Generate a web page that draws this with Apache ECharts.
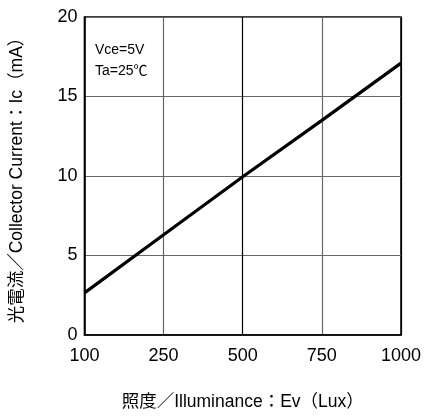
<!DOCTYPE html>
<html><head><meta charset="utf-8">
<script src="https://cdn.jsdelivr.net/npm/echarts@6/dist/echarts.min.js"></script>
<style>html,body{margin:0;padding:0;background:#fff}#c{width:424px;height:416px}</style>
</head><body><div id="c"></div>
<script>
const categories = ['100','250','500','750','1000'];
const currentValues = [2.65, 6.3, 9.95, 13.5, 17.1];
const yTicks = [0, 5, 10, 15, 20];
const xAxisName = '照度／Illuminance：Ev（Lux）';
const yAxisName = '光電流／Collector Current：Ic（mA）';
const noteLines = ['Vce=5V', 'Ta=25℃'];

const FONT = '"Liberation Sans", "Noto Sans CJK JP", sans-serif';
const chart = echarts.init(document.getElementById('c'), null, {renderer: 'canvas'});
chart.setOption({
  animation: false,
  backgroundColor: '#fff',
  grid: {left: 83, right: 23, top: 17, bottom: 81, show: true, borderColor: '#000', borderWidth: 1.5, containLabel: false},
  xAxis: {
    type: 'category', data: categories, boundaryGap: false,
    name: xAxisName, nameLocation: 'middle', nameGap: 58,
    nameTextStyle: {fontSize: 17.5, color: '#000', fontFamily: FONT},
    axisLine: {show: true, lineStyle: {color: '#000', width: 1.5}},
    axisTick: {show: false},
    axisLabel: {fontSize: 18, color: '#000', margin: 12, fontFamily: FONT},
    splitLine: {show: true, lineStyle: {color: ['#000', '#666', '#000', '#666', '#000'], width: 1.2}}
  },
  yAxis: {
    type: 'value', min: yTicks[0], max: yTicks[yTicks.length - 1], interval: 5,
    name: yAxisName, nameLocation: 'middle', nameGap: 59, nameRotate: 90,
    nameTextStyle: {fontSize: 17.5, color: '#000', fontFamily: FONT},
    axisLine: {show: true, lineStyle: {color: '#000', width: 1.5}},
    axisTick: {show: false},
    axisLabel: {fontSize: 18, color: '#000', margin: 7, fontFamily: FONT},
    splitLine: {show: true, lineStyle: {color: '#666', width: 1.2}}
  },
  graphic: [{
    type: 'text', left: 95, top: 40,
    style: {text: noteLines.join('\n'), fontSize: 14, lineHeight: 21, fill: '#000', fontFamily: FONT}
  }],
  series: [{
    type: 'line', data: currentValues, symbol: 'none',
    lineStyle: {color: '#000', width: 3.2}
  }]
});
</script></body></html>
